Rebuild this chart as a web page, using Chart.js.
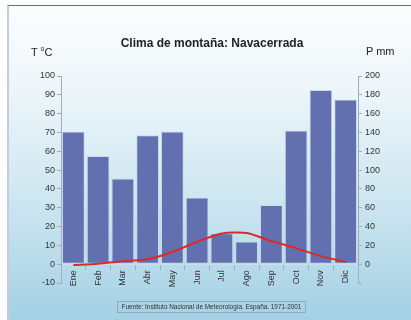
<!DOCTYPE html>
<html>
<head>
<meta charset="utf-8">
<script src="https://cdn.jsdelivr.net/npm/chart.js@4/dist/chart.umd.min.js"></script>
<style>
  html, body { margin: 0; padding: 0; background: #ffffff; }
  #frame { position: absolute; left: 0; top: 0; width: 411px; height: 320px; overflow: hidden;
           font-family: "Liberation Sans", Arial, sans-serif; }
  #panel { position: absolute; left: 7px; top: 5px; right: 0; bottom: 0;
           border-top: 1px solid #5b6cb6; border-left: 2px solid #c6cbe0;
           background: linear-gradient(#fbfdfe 0%, #eef6fa 25%, #cfe7f1 60%, #a3d1e4 100%); }
  #wrap { position: absolute; left: 0; top: 0; width: 411px; height: 320px; }
  .txt { position: absolute; color: #222; white-space: nowrap; }
  #title { left: 0; width: 424px; top: 36px; text-align: center; font-weight: bold; font-size: 12px; }
  #unitT { left: 31px; top: 46px; font-size: 11px; }
  #unitT sup { font-size: 7px; vertical-align: 5px; line-height: 0; }
  #unitP { left: 366px; top: 45px; font-size: 11px; }
  #source { position: absolute; left: 117px; top: 301px; width: 187px; height: 10px;
            border: 1px solid #8ea9c2; font-size: 6.4px; line-height: 10px; text-align: center; color: #333; }
</style>
</head>
<body>
<div id="frame">
  <div id="panel"></div>
  <div id="wrap"><canvas id="chart" width="411" height="320"></canvas></div>
  <div id="title" class="txt">Clima de montaña: Navacerrada</div>
  <div id="unitT" class="txt">T <sup>o</sup>C</div>
  <div id="unitP" class="txt">P mm</div>
  <div id="source">Fuente: Instituto Nacional de Meteorología. España. 1971-2001</div>
</div>
<script>
// Monthly climate normals, Navacerrada
const months = ['Ene', 'Feb', 'Mar', 'Abr', 'May', 'Jun', 'Jul', 'Ago', 'Sep', 'Oct', 'Nov', 'Dic'];
const precipitationMm = [141, 115, 91, 137, 141, 71, 33, 24, 63, 142, 185, 175];
const temperatureC = [-0.4, 0.2, 1.6, 2.6, 6.5, 11.9, 16.3, 16.6, 12.3, 8.5, 4.3, 1.2];

// Axis ranges: temperature on the left, precipitation (2 mm per °C) on the right
const tempRange = { min: -10, max: 100, step: 10 };
const precipRange = { min: -20, max: 200, step: 20 };

const tickFont = { family: '"Liberation Sans", Arial, sans-serif', size: 9 };
const axisColor = '#a3acbd';

new Chart(document.getElementById('chart'), {
  data: {
    labels: months,
    datasets: [
      {
        type: 'line',
        label: 'Temperatura',
        data: temperatureC,
        yAxisID: 'y',
        borderColor: '#dc2a2a',
        borderWidth: 2,
        pointRadius: 0,
        tension: 0.25,
        fill: false,
        order: 0
      },
      {
        type: 'bar',
        label: 'Precipitación',
        data: precipitationMm,
        yAxisID: 'y1',
        backgroundColor: '#6270b0',
        borderColor: '#c9d9ea',
        borderWidth: 1,
        borderSkipped: false,
        barPercentage: 0.92,
        categoryPercentage: 1,
        order: 1
      }
    ]
  },
  options: {
    responsive: false,
    animation: false,
    layout: { padding: { left: 8, right: 8, top: 76, bottom: 37 } },
    plugins: { legend: { display: false }, tooltip: { enabled: false }, title: { display: false } },
    scales: {
      x: {
        position: { y: 0 },
        offset: true,
        afterFit: s => { s.height = 0; },
        grid: { offset: true, drawOnChartArea: false, drawTicks: true, tickLength: 5, color: axisColor },
        border: { display: true, color: 'rgba(205,222,236,0.9)' },
        ticks: { font: tickFont, color: '#333', minRotation: 90, maxRotation: 90, padding: 1, autoSkip: false }
      },
      y: {
        position: 'left',
        min: tempRange.min,
        max: tempRange.max,
        afterFit: s => { s.width = 53; },
        grid: { drawOnChartArea: false, drawTicks: true, tickLength: 4, color: axisColor },
        border: { display: true, color: axisColor },
        ticks: { stepSize: tempRange.step, font: tickFont, color: '#333', padding: 2 }
      },
      y1: {
        position: 'right',
        min: precipRange.min,
        max: precipRange.max,
        afterFit: s => { s.width = 45; },
        grid: { drawOnChartArea: false, drawTicks: true, tickLength: 4, color: axisColor },
        border: { display: true, color: axisColor },
        ticks: {
          stepSize: precipRange.step, font: tickFont, color: '#333', padding: 3,
          callback: v => (v < 0 ? '' : v)
        }
      }
    }
  }
});
</script>
</body>
</html>
